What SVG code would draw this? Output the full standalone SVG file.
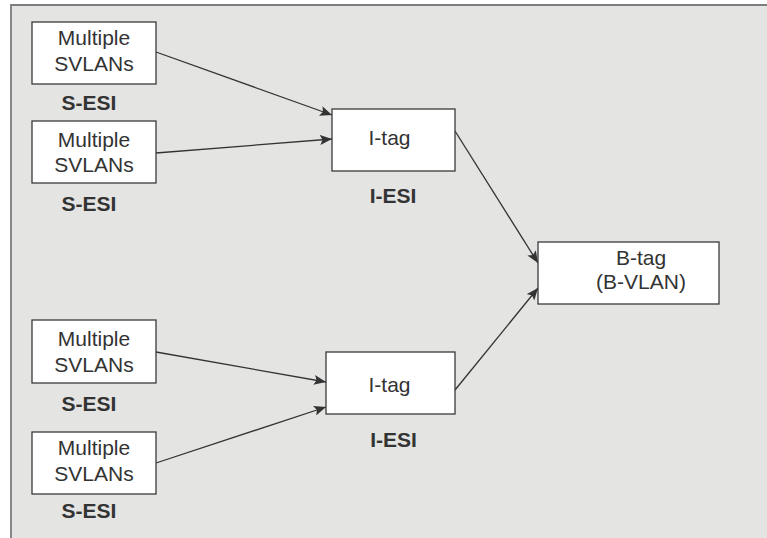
<svg xmlns="http://www.w3.org/2000/svg" width="767" height="538" viewBox="0 0 767 538">
<defs>
<style>
.box{fill:#ffffff;stroke:#3a3a3a;stroke-width:1.3}
.t{font-family:"Liberation Sans",Arial,Helvetica,sans-serif;font-size:21px;fill:#333333;text-anchor:middle}
.b{font-family:"Liberation Sans",Arial,Helvetica,sans-serif;font-size:21px;font-weight:bold;fill:#333333;text-anchor:middle}
.c{stroke:#333333;stroke-width:1.3;fill:none;marker-end:url(#ah)}
</style>
<marker id="ah" viewBox="0 0 12 10" refX="12" refY="5" markerWidth="12" markerHeight="10" markerUnits="userSpaceOnUse" orient="auto">
<path d="M0,0 L12,5 L0,10 L2.5,5 Z" fill="#333333"/>
</marker>
</defs>
<rect x="0" y="0" width="767" height="538" fill="#ffffff"/>
<rect x="11" y="5" width="760" height="540" fill="#e4e4e3"/>
<path d="M11,540 L11,5 L767,5" fill="none" stroke="#7d7d7d" stroke-width="1.8"/>
<g id="connectors">
<line class="c" x1="156" y1="52" x2="332" y2="115"/>
<line class="c" x1="156" y1="153" x2="332" y2="139"/>
<line class="c" x1="455" y1="131" x2="538" y2="263"/>
<line class="c" x1="455" y1="390" x2="538" y2="288"/>
<line class="c" x1="156" y1="352" x2="326" y2="382"/>
<line class="c" x1="156" y1="463" x2="326" y2="407"/>
</g>
<g id="s1">
<rect class="box" x="32" y="22" width="124" height="62"/>
<text class="t" x="94" y="45">Multiple</text>
<text class="t" x="94" y="71">SVLANs</text>
<text class="b" x="89" y="110">S-ESI</text>
</g>
<g id="s2">
<rect class="box" x="32" y="121" width="124" height="62"/>
<text class="t" x="94" y="147">Multiple</text>
<text class="t" x="94" y="172">SVLANs</text>
<text class="b" x="89" y="211">S-ESI</text>
</g>
<g id="s3">
<rect class="box" x="32" y="320" width="124" height="63"/>
<text class="t" x="94" y="346">Multiple</text>
<text class="t" x="94" y="372">SVLANs</text>
<text class="b" x="89" y="411">S-ESI</text>
</g>
<g id="s4">
<rect class="box" x="32" y="432" width="124" height="62"/>
<text class="t" x="94" y="455">Multiple</text>
<text class="t" x="94" y="481">SVLANs</text>
<text class="b" x="89" y="518">S-ESI</text>
</g>
<g id="i1">
<rect class="box" x="332" y="109" width="123" height="62"/>
<text class="t" x="389.5" y="145">I-tag</text>
<text class="b" x="393" y="203">I-ESI</text>
</g>
<g id="i2">
<rect class="box" x="326" y="352" width="129" height="62"/>
<text class="t" x="389.5" y="392">I-tag</text>
<text class="b" x="393.5" y="447">I-ESI</text>
</g>
<g id="b1">
<rect class="box" x="538" y="242" width="181" height="62"/>
<text class="t" x="641" y="265">B-tag</text>
<text class="t" x="641" y="289">(B-VLAN)</text>
</g>
</svg>
